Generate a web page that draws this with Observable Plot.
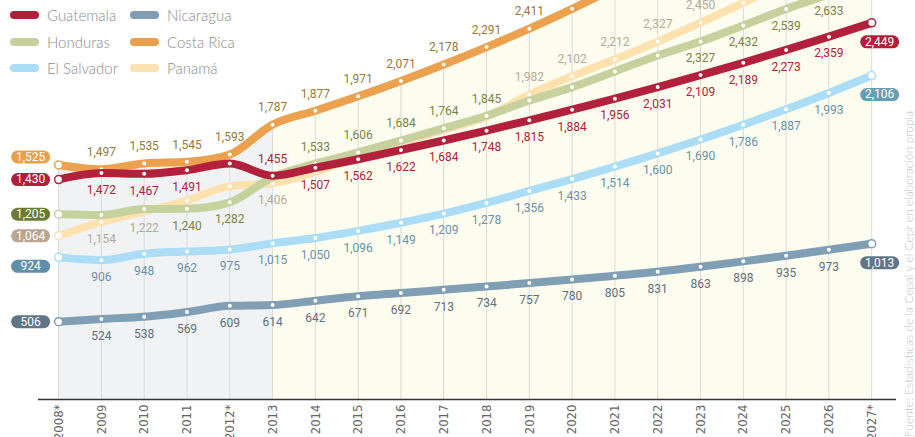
<!DOCTYPE html>
<html>
<head>
<meta charset="utf-8">
<script src="https://cdn.jsdelivr.net/npm/d3@7"></script>
<script src="https://cdn.jsdelivr.net/npm/@observablehq/plot@0.6"></script>
<style>
  html, body { margin: 0; padding: 0; background: #fff; }
  #wrap { position: relative; width: 915px; height: 437px; overflow: hidden; }
  #legend { position: absolute; left: 0; top: 0; font-family: Lato, "Open Sans", sans-serif; font-weight: 300; font-size: 15px; color: #8c8c8c; }
  .item { position: absolute; display: flex; align-items: center; white-space: nowrap; }
  .sw { width: 29px; height: 8px; border-radius: 4px; margin-right: 8px; }
  #source { position: absolute; left: 901px; bottom: 0px; writing-mode: vertical-rl; transform: rotate(180deg);
            font-family: Lato, "Open Sans", sans-serif; font-weight: 300; font-size: 12px; color: #c2c2c2; white-space: nowrap; }
</style>
</head>
<body>
<div id="wrap"><div id="chart"></div><div id="legend"></div><div id="source">Fuente: Estadísticas de la Cepal y el Cepr en elaboración propia</div></div>
<script>
// ---- data ----
const years = [2008,2009,2010,2011,2012,2013,2014,2015,2016,2017,2018,2019,2020,2021,2022,2023,2024,2025,2026,2027];
const yearLabels = ["2008*","2009","2010","2011","2012*","2013","2014","2015","2016","2017","2018","2019","2020","2021","2022","2023","2024","2025","2026","2027*"];
const countries = ["Guatemala","Nicaragua","Honduras","Costa Rica","El Salvador","Panamá"];
const guatemala = [1430,1472,1467,1491,1534,1455,1507,1562,1622,1684,1748,1815,1884,1956,2031,2109,2189,2273,2359,2449];
const nicaragua = [506,524,538,569,609,614,642,671,692,713,734,757,780,805,831,863,898,935,973,1013];
const honduras = [1205,1200,1238,1240,1282,1445,1533,1606,1684,1764,1845,1944,2031,2133,2237,2327,2432,2539,2633,2730];
const costaRica = [1525,1497,1535,1545,1593,1787,1877,1971,2071,2178,2291,2411,2540,2675,2815,2960,3110,3265,3425,3590];
const elSalvador = [924,906,948,962,975,1015,1050,1096,1149,1209,1278,1356,1433,1514,1600,1690,1786,1887,1993,2106];
const panama = [1064,1154,1222,1294,1387,1406,1480,1580,1670,1755,1840,1982,2102,2212,2327,2450,2580,2715,2855,3000];
// label placement per point: p = pill, a = above, b = below, - = none
const guatemalaSide  = "pbbb-abbbbbbbbbbbbbp";
const nicaraguaSide  = "pbbbbbbbbbbbbbbbbbbp";
const hondurasSide   = "p--bb-aaaaa----bbbb-";
const costaRicaSide  = "paaaaaaaaaaa--------";
const elSalvadorSide = "pbbbbbbbbbbbbbbbbbbp";
const panamaSide     = "pbb--b-----aaaaa----";

// ---- styles ----
const style = {
  "Guatemala":   {values: guatemala,  side: guatemalaSide,  line: "#b3203b", label: "#b3203b", pill: "#b01e3a", pillR: "#b01e3a", leftDy: 0},
  "Nicaragua":   {values: nicaragua,  side: nicaraguaSide,  line: "#809eb4", label: "#5f6f7c", pill: "#5e7686", pillR: "#5e7686", leftDy: 0},
  "Honduras":    {values: honduras,   side: hondurasSide,   line: "#c6d19e", label: "#7a8345", pill: "#6b7a36", pillR: "#6b7a36", leftDy: 0},
  "Costa Rica":  {values: costaRica,  side: costaRicaSide,  line: "#eba14d", label: "#98793c", pill: "#e9a04b", pillR: "#e9a04b", leftDy: -8},
  "El Salvador": {values: elSalvador, side: elSalvadorSide, line: "#abdef6", label: "#6c91a7", pill: "#5f8ea8", pillR: "#6b9cb6", leftDy: 9},
  "Panamá":      {values: panama,     side: panamaSide,     line: "#fde2b0", label: "#b4aa98", pill: "#baa68f", pillR: "#baa68f", leftDy: 0}
};
const drawOrder = ["Panamá","Honduras","Costa Rica","El Salvador","Nicaragua","Guatemala"];

const rows = [];
for (const c of drawOrder) {
  const s = style[c];
  years.forEach((y, i) => rows.push({country: c, year: y, value: s.values[i], i, side: s.side[i]}));
}
const fmt = d3.format(",");
const crRows = rows.filter(d => d.country === "Costa Rica");
const curve = "monotone-x";

const pill = {
  draw(ctx) {
    const w = 19.5, h = 6.5;
    ctx.moveTo(-w + h, -h);
    ctx.lineTo(w - h, -h);
    ctx.arc(w - h, 0, h, -Math.PI / 2, Math.PI / 2);
    ctx.lineTo(-w + h, h);
    ctx.arc(-w + h, 0, h, Math.PI / 2, Math.PI * 1.5);
    ctx.closePath();
  }
};

const labelFont = {fontFamily: "Roboto, 'Open Sans', sans-serif", fontSize: 12, fontWeight: 400};

const marks = [
  Plot.areaY(crRows.filter(d => d.year <= 2013), {x: "year", y: "value", fill: "#f0f2f4", curve, clip: true}),
  Plot.areaY(crRows.filter(d => d.year >= 2013), {x: "year", y: "value", fill: "#fcfdef", curve, clip: true}),
  Plot.ruleX(crRows, {x: "year", y1: 0, y2: "value", stroke: "#dadbdc", strokeWidth: 1, clip: true}),
  Plot.ruleY([0], {stroke: "#333", strokeWidth: 1.5})
];
for (const c of drawOrder) {
  const s = style[c];
  const r = rows.filter(d => d.country === c);
  marks.push(Plot.line(r, {x: "year", y: "value", stroke: s.line, strokeWidth: 8, curve, strokeLinecap: "round", clip: true}));
  marks.push(Plot.dot(r.filter(d => d.i > 0 && d.i < 19), {x: "year", y: "value", r: 2, fill: "#fff", clip: true}));
  marks.push(Plot.dot(r.filter(d => d.i === 0 || d.i === 19), {x: "year", y: "value", r: 4, fill: "#fff", stroke: s.line, strokeWidth: 1.5, clip: true}));
}
for (const c of drawOrder) {
  const s = style[c];
  const r = rows.filter(d => d.country === c);
  marks.push(Plot.text(r.filter(d => d.side === "a"), {x: "year", y: "value", text: d => fmt(d.value), dy: -17, fill: s.label, ...labelFont}));
  marks.push(Plot.text(r.filter(d => d.side === "b"), {x: "year", y: "value", text: d => fmt(d.value), dy: 17, fill: s.label, ...labelFont}));
  const left = r.filter(d => d.side === "p" && d.i === 0);
  const right = r.filter(d => d.side === "p" && d.i === 19);
  marks.push(Plot.dot(left, {x: "year", y: "value", symbol: pill, r: 5, fill: s.pill, dx: -28, dy: s.leftDy}));
  marks.push(Plot.text(left, {x: "year", y: "value", text: d => fmt(d.value), fill: "#fff", dx: -28, dy: s.leftDy, ...labelFont}));
  marks.push(Plot.dot(right, {x: "year", y: "value", symbol: pill, r: 5, fill: s.pillR, dx: 8, dy: 19}));
  marks.push(Plot.text(right, {x: "year", y: "value", text: d => fmt(d.value), fill: "#fff", dx: 8, dy: 19, ...labelFont}));
}
marks.push(Plot.axisX(years, {
  tickRotate: -90, tickSize: 0, tickPadding: 5, label: null,
  tickFormat: d => yearLabels[years.indexOf(d)],
  fontSize: 13, fill: "#666", fontFamily: "'Liberation Sans Narrow', 'DejaVu Sans Condensed', sans-serif"
}));

const chart = Plot.plot({
  width: 915, height: 437,
  marginTop: 0, marginBottom: 38, marginLeft: 38, marginRight: 19,
  x: {domain: [2007.53, 2027.58], axis: null, label: null},
  y: {domain: [0, 2594], axis: null, label: null},
  style: {background: "transparent", overflow: "hidden"},
  marks
});
document.getElementById("chart").appendChild(chart);

// ---- legend ----
const legendItems = [
  ["Guatemala", 10, 15], ["Nicaragua", 130, 15],
  ["Honduras", 10, 42], ["Costa Rica", 130, 42],
  ["El Salvador", 10, 68], ["Panamá", 130, 68]
];
const legendColors = {"Guatemala": "#b01e3a", "Nicaragua": "#7f9cb3", "Honduras": "#c5d09c", "Costa Rica": "#e89f4c", "El Salvador": "#a9dcf5", "Panamá": "#fde2b1"};
const lg = document.getElementById("legend");
for (const [name, x, y] of legendItems) {
  const el = document.createElement("div");
  el.className = "item";
  el.style.left = x + "px";
  el.style.top = (y - 10) + "px";
  el.style.height = "20px";
  el.innerHTML = `<span class="sw" style="background:${legendColors[name]}"></span><span>${name}</span>`;
  lg.appendChild(el);
}
</script>
</body>
</html>
